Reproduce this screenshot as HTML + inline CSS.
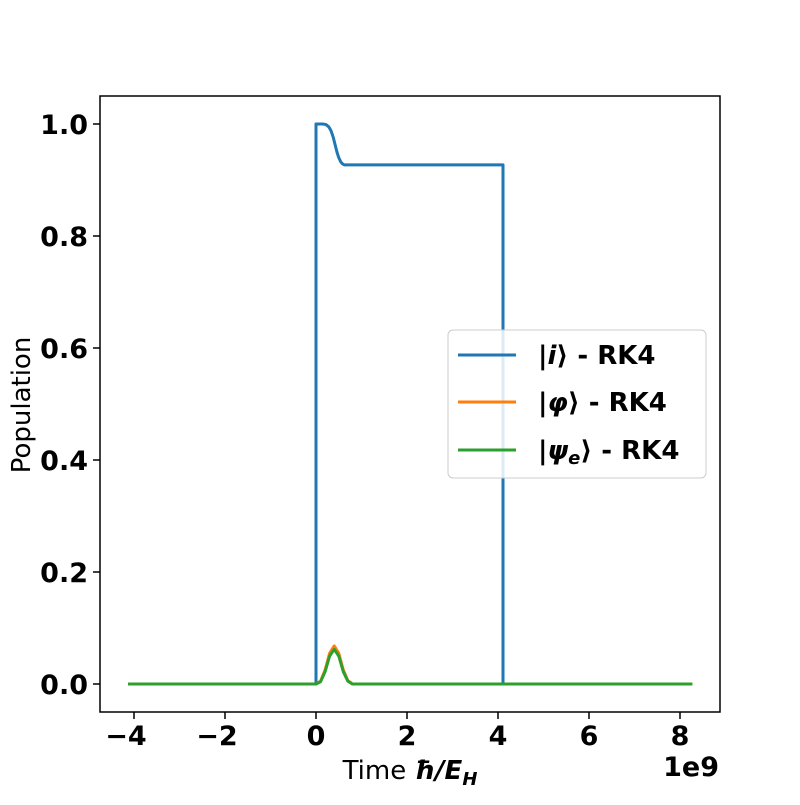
<!DOCTYPE html>
<html><head><meta charset="utf-8"><style>
body{margin:0;background:#fff;}
svg text{font-family:"DejaVu Sans","Liberation Sans",sans-serif;}
</style></head><body>
<svg id="chart" width="800" height="800">
<rect x="0" y="0" width="800" height="800" fill="#fff"/>
<g id="marks"></g>
<rect x="100" y="96" width="620" height="616" fill="none" stroke="#000" stroke-width="1.5"/>
<g id="ticks"></g>
<text x="410" y="779" font-size="26" text-anchor="middle">Time <tspan font-weight="bold" font-style="italic">ħ/E<tspan font-size="18" dy="6">H</tspan></tspan></text>
<text x="719" y="776" font-size="27" font-weight="bold" text-anchor="end">1e9</text>
<text transform="translate(30,405) rotate(-90)" font-size="26" text-anchor="middle">Population</text>
<g>
<rect x="448" y="330" width="258" height="148" rx="5" fill="#fff" fill-opacity="0.85" stroke="#ccc" stroke-width="1"/>
<line x1="458" y1="355" x2="516" y2="355" stroke="#1f77b4" stroke-width="3"/>
<text x="538" y="364" font-size="26" font-weight="bold">|<tspan font-style="italic">i</tspan>⟩ - RK4</text>
<line x1="458" y1="402" x2="516" y2="402" stroke="#ff7f0e" stroke-width="3"/>
<text x="538" y="411" font-size="26" font-weight="bold">|<tspan font-style="italic">φ</tspan>⟩ - RK4</text>
<line x1="458" y1="450" x2="516" y2="450" stroke="#2ca02c" stroke-width="3"/>
<text x="538" y="459" font-size="26" font-weight="bold">|<tspan font-style="italic">ψ<tspan font-size="18" dy="5">e</tspan></tspan><tspan dy="-5">⟩ - RK4</tspan></text>
</g>
</svg>
<script>
const xTicks=[-4,-2,0,2,4,6,8];
const yTicks=[0.0,0.2,0.4,0.6,0.8,1.0];
const blueX=[-4.13,0,0,0.15,0.22,0.28,0.33,0.38,0.42,0.46,0.5,0.54,0.58,0.62,0.66,4.11,4.11,8.27];
const blueY=[0,0,1.0,1.0,0.999,0.995,0.988,0.976,0.963,0.95,0.94,0.933,0.929,0.927,0.927,0.927,0,0];
const orangeX=[-4.13,0,0.1,0.2,0.3,0.4,0.5,0.6,0.7,0.8,8.27];
const orangeY=[0,0,0.005,0.025,0.055,0.068,0.055,0.025,0.006,0,0];
const greenX=[-4.13,0,0.1,0.2,0.3,0.4,0.5,0.6,0.7,0.8,8.27];
const greenY=[0,0,0.004,0.022,0.05,0.062,0.05,0.022,0.005,0,0];
const sx=v=>316+v*45.5, sy=v=>684-v*560;
const NS="http://www.w3.org/2000/svg";
const marks=document.getElementById('marks'), ticks=document.getElementById('ticks');
function line(xs,ys,color,name){
  const p=document.createElementNS(NS,'polyline');
  p.setAttribute('points',xs.map((x,i)=>sx(x)+','+sy(ys[i])).join(' '));
  p.setAttribute('fill','none');p.setAttribute('stroke',color);p.setAttribute('stroke-width','3');
  p.setAttribute('stroke-linejoin','round');
  
  
  marks.appendChild(p);
}
line(blueX,blueY,'#1f77b4','series-i');
line(orangeX,orangeY,'#ff7f0e','series-phi');
line(greenX,greenY,'#2ca02c','series-psi');
xTicks.forEach(v=>{
  const l=document.createElementNS(NS,'line');
  l.setAttribute('x1',sx(v));l.setAttribute('x2',sx(v));l.setAttribute('y1',712);l.setAttribute('y2',719);l.setAttribute('stroke','#000');l.setAttribute('stroke-width','1.5');
  
  
  ticks.appendChild(l);
  const t=document.createElementNS(NS,'text');
  t.setAttribute('x',sx(v)-(v<0?8:0));t.setAttribute('y',745);t.setAttribute('font-size','27');t.setAttribute('font-weight','bold');t.setAttribute('text-anchor','middle');
  t.textContent=(v<0?'\u2212':'')+Math.abs(v);
  
  
  ticks.appendChild(t);
});
yTicks.forEach(v=>{
  const l=document.createElementNS(NS,'line');
  l.setAttribute('x1',93);l.setAttribute('x2',100);l.setAttribute('y1',sy(v));l.setAttribute('y2',sy(v));l.setAttribute('stroke','#000');l.setAttribute('stroke-width','1.5');
  
  
  ticks.appendChild(l);
  const t=document.createElementNS(NS,'text');
  t.setAttribute('x',88);t.setAttribute('y',sy(v)+10);t.setAttribute('font-size','27');t.setAttribute('font-weight','bold');t.setAttribute('text-anchor','end');
  t.textContent=v.toFixed(1);
  
  
  ticks.appendChild(t);
});
</script>
</body></html>
